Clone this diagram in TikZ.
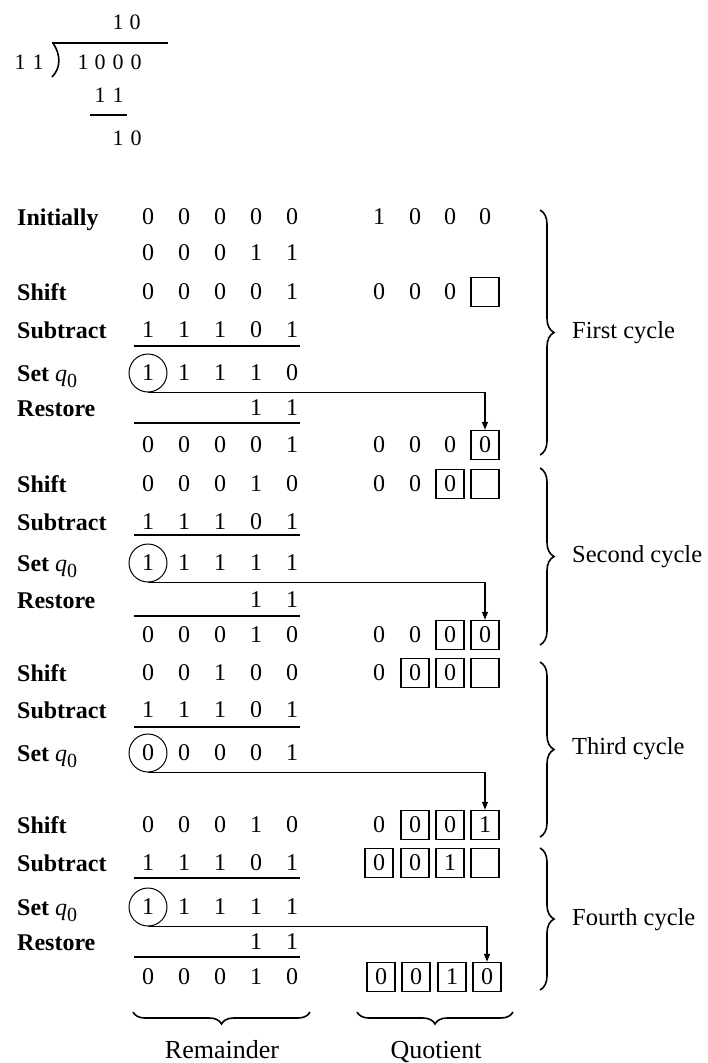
\documentclass[tikz,border=0pt]{standalone}
\usepackage{fontspec}
\setmainfont{Liberation Serif}
\usetikzlibrary{decorations.pathreplacing,arrows.meta}
\begin{document}
\begin{tikzpicture}[x=1pt,y=-1pt,
  dig/.style={font=\fontsize{24}{28}\selectfont, inner sep=0pt},
  small/.style={font=\fontsize{22}{26}\selectfont, inner sep=0pt},
  lab/.style={font=\fontsize{24}{28}\selectfont\bfseries, anchor=base west, inner sep=0pt},
  qbox/.style={dig, draw, line width=1.4pt, minimum width=28pt, minimum height=29pt},
  circ/.style={dig, draw, circle, line width=1pt, minimum size=38pt},
  rulel/.style={line width=2.4pt},
  feed/.style={line width=1.2pt, -{Triangle[length=8pt,width=6pt]}},
  rbrace/.style={decorate, decoration={brace, amplitude=14pt}, line width=1.6pt},
  bbrace/.style={decorate, decoration={brace, amplitude=12pt}, line width=1.6pt},
  cyc/.style={font=\fontsize{24.5}{30}\selectfont, anchor=west, inner sep=0pt},
  blab/.style={font=\fontsize{26}{30}\selectfont, anchor=base, inner sep=0pt}]
\useasboundingbox (0,0) rectangle (707,1063);

% long division
\node[small] (t1) at (118,22) {1};
\node[small] (t2) at (135,22) {0};
\node[small] (d1) at (20,62) {1};
\node[small] (d2) at (38,62) {1};
\node[small] (n1) at (83,62) {1};
\node[small] (n2) at (100,62) {0};
\node[small] (n3) at (118,62) {0};
\node[small] (n4) at (136,62) {0};
\node[small] (s1) at (100,95) {1};
\node[small] (s2) at (118,95) {1};
\node[small] (m1) at (118,138) {1};
\node[small] (m2) at (136,138) {0};
\draw[line width=1.6pt] (52,43) -- (168,43);
\draw[line width=1.6pt] (53,43) .. controls (61,55) and (61,68) .. (52,77);
\draw[line width=2.6pt] (90,115) -- (127,115);

% plain remainder rows
\foreach \n/\y/\a/\b/\c/\d/\e in {r0/217/0/0/0/0/0, r1/253/0/0/0/1/1, r2/292/0/0/0/0/1,
  r3/330/1/1/1/0/1, r6/445/0/0/0/0/1, r7/484/0/0/0/1/0, r8/522/1/1/1/0/1,
  r11/635/0/0/0/1/0, r12/673/0/0/1/0/0, r13/710/1/1/1/0/1, r15/825/0/0/0/1/0,
  r16/863/1/1/1/0/1, r19/977/0/0/0/1/0}{
  \node[dig] (\n-1) at (148,\y) {\a};
  \node[dig] (\n-2) at (184,\y) {\b};
  \node[dig] (\n-3) at (220,\y) {\c};
  \node[dig] (\n-4) at (256,\y) {\d};
  \node[dig] (\n-5) at (292,\y) {\e};
}
% rows with circled sign bit
\foreach \n/\y/\a/\b/\c/\d/\e in {r4/373/1/1/1/1/0, r9/563/1/1/1/1/1, r14/753/0/0/0/0/1, r17/907/1/1/1/1/1}{
  \node[circ] (\n-1) at (148,\y) {\a};
  \node[dig] (\n-2) at (184,\y) {\b};
  \node[dig] (\n-3) at (220,\y) {\c};
  \node[dig] (\n-4) at (256,\y) {\d};
  \node[dig] (\n-5) at (292,\y) {\e};
}
% restore rows
\foreach \n/\y in {r5/408, r10/600, r18/942}{
  \node[dig] (\n-4) at (256,\y) {1};
  \node[dig] (\n-5) at (292,\y) {1};
}
% rules
\foreach \y in {346,423,535,616,727,878,957}{
  \draw[rulel] (134,\y) -- (300,\y);
}

% labels
\foreach \n/\y/\t in {l0/217/Initially, l2/292/Shift, l3/330/Subtract, l5/408/Restore,
  l7/484/Shift, l8/522/Subtract, l10/600/Restore, l12/673/Shift, l13/710/Subtract,
  l15/825/Shift, l16/863/Subtract, l18/942/Restore}{
  \node[lab] (\n) at (17,{\y+8}) {\t};
}
\foreach \n/\y in {l4/373, l9/563, l14/753, l17/907}{
  \node[lab] (\n) at (17,{\y+8}) {Set \textit{\mdseries q}\raisebox{-6pt}{\mdseries\fontsize{20}{22}\selectfont 0}};
}

% quotient
\node[dig] (q0-1) at (379,217) {1};
\node[dig] (q0-2) at (415,217) {0};
\node[dig] (q0-3) at (450,217) {0};
\node[dig] (q0-4) at (485,217) {0};

\node[dig] (q2-1) at (379,292) {0};
\node[dig] (q2-2) at (415,292) {0};
\node[dig] (q2-3) at (450,292) {0};
\node[qbox] (q2-4) at (485,292) {};

\node[dig] (q6-1) at (379,445) {0};
\node[dig] (q6-2) at (415,445) {0};
\node[dig] (q6-3) at (450,445) {0};
\node[qbox] (q6-4) at (485,445) {0};

\node[dig] (q7-1) at (379,484) {0};
\node[dig] (q7-2) at (415,484) {0};
\node[qbox] (q7-3) at (450,484) {0};
\node[qbox] (q7-4) at (485,484) {};

\node[dig] (q11-1) at (379,635) {0};
\node[dig] (q11-2) at (415,635) {0};
\node[qbox] (q11-3) at (450,635) {0};
\node[qbox] (q11-4) at (485,635) {0};

\node[dig] (q12-1) at (379,673) {0};
\node[qbox] (q12-2) at (415,673) {0};
\node[qbox] (q12-3) at (450,673) {0};
\node[qbox] (q12-4) at (485,673) {};

\node[dig] (q15-1) at (379,825) {0};
\node[qbox] (q15-2) at (415,825) {0};
\node[qbox] (q15-3) at (450,825) {0};
\node[qbox] (q15-4) at (485,825) {1};

\node[qbox] (q16-1) at (379,863) {0};
\node[qbox] (q16-2) at (415,863) {0};
\node[qbox] (q16-3) at (450,863) {1};
\node[qbox] (q16-4) at (485,863) {};

\node[qbox] (q19-1) at (381,977) {0};
\node[qbox] (q19-2) at (416,977) {0};
\node[qbox] (q19-3) at (452,977) {1};
\node[qbox] (q19-4) at (487,977) {0};

% feed arrows from sign bit to q0
\draw[feed] (r4-1.south) -| (q6-4.north);
\draw[feed] (r9-1.south) -| (q11-4.north);
\draw[feed] (r14-1.south) -| (q15-4.north);
\draw[feed] (r17-1.south) -| (q19-4.north);

% cycle braces
\coordinate (b1a) at (540,210); \coordinate (b1b) at (540,455);
\coordinate (b2a) at (540,468); \coordinate (b2b) at (540,645);
\coordinate (b3a) at (540,662); \coordinate (b3b) at (540,837);
\coordinate (b4a) at (540,848); \coordinate (b4b) at (540,990);
\draw[rbrace] (b1a) -- (b1b);
\draw[rbrace] (b2a) -- (b2b);
\draw[rbrace] (b3a) -- (b3b);
\draw[rbrace] (b4a) -- (b4b);
\node[cyc] (c1) at (572,333) {First cycle};
\node[cyc] (c2) at (572,557) {Second cycle};
\node[cyc] (c3) at (572,749) {Third cycle};
\node[cyc] (c4) at (572,920) {Fourth cycle};

% bottom braces
\coordinate (rba) at (310,1012); \coordinate (rbb) at (133,1012);
\coordinate (qba) at (513,1012); \coordinate (qbb) at (357,1012);
\draw[bbrace] (rba) -- (rbb);
\draw[bbrace] (qba) -- (qbb);
\node[blab] (remlab) at (222,1058) {Remainder};
\node[blab] (quolab) at (436,1058) {Quotient};
\end{tikzpicture}
\end{document}
